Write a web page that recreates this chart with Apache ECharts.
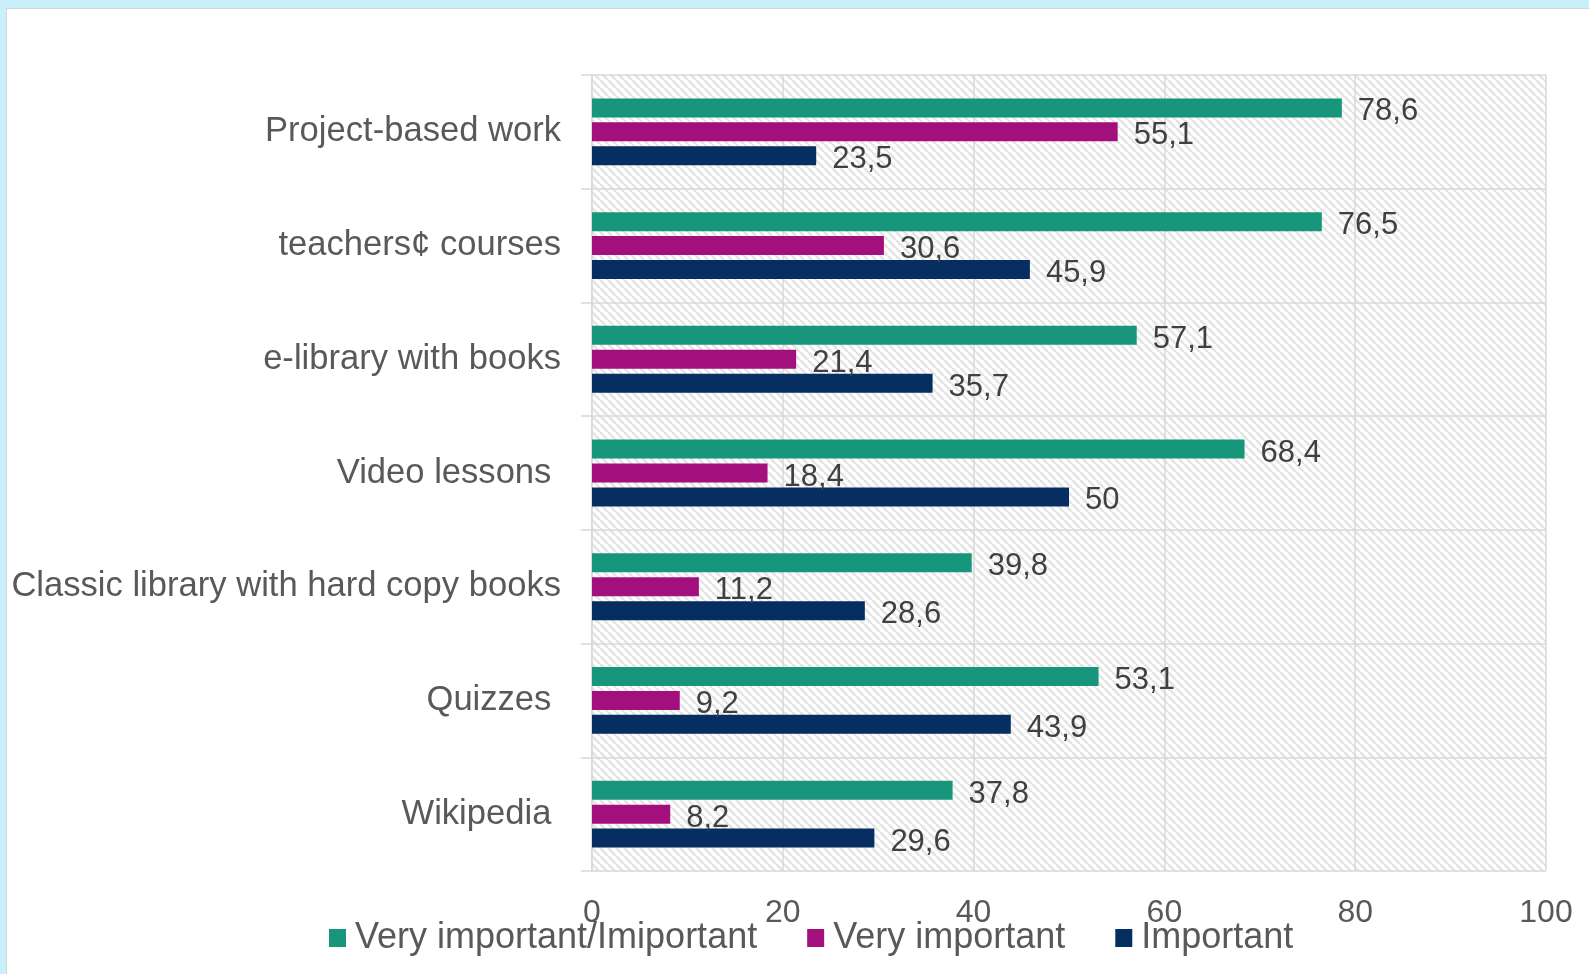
<!DOCTYPE html>
<html>
<head>
<meta charset="utf-8">
<script src="https://cdn.jsdelivr.net/npm/echarts@6/dist/echarts.min.js"></script>
<style>
  html, body { margin: 0; padding: 0; width: 1589px; height: 974px; overflow: hidden; background: #c8effa; }
  #panel { position: absolute; left: 6px; top: 8px; width: 1600px; height: 1000px; background: #ffffff; border-left: 1px solid #d6d6d6; border-top: 1px solid #d6d6d6; }
  #chart { position: absolute; left: 0; top: 0; width: 1589px; height: 974px; }
</style>
</head>
<body>
<div id="panel"></div>
<div id="chart"></div>
<script>
const categories = [
  'Project-based work',
  'teachers\u00a2 courses',
  'e-library with books',
  'Video lessons ',
  'Classic library with hard copy books',
  'Quizzes ',
  'Wikipedia '
];
const seriesNames = ['Very important/Imiportant', 'Very important', 'Important'];
const veryImportantOrImportant = [78.6, 76.5, 57.1, 68.4, 39.8, 53.1, 37.8];
const veryImportant = [55.1, 30.6, 21.4, 18.4, 11.2, 9.2, 8.2];
const important = [23.5, 45.9, 35.7, 50, 28.6, 43.9, 29.6];
const xTicks = [0, 20, 40, 60, 80, 100];

const colors = ['#17967b', '#a30f7d', '#062e61'];
const FONT = '"Liberation Sans", Arial, sans-serif';

// hatch pattern for plot background
const T = 8;
const tile = document.createElement('canvas');
tile.width = T; tile.height = T;
const ctx = tile.getContext('2d');
ctx.fillStyle = '#ffffff';
ctx.fillRect(0, 0, T, T);
ctx.strokeStyle = '#e4e4e4';
ctx.lineWidth = 2.6;
for (let x = -T; x <= T; x += T) {
  ctx.beginPath();
  ctx.moveTo(x, 0);
  ctx.lineTo(x + T, T);
  ctx.stroke();
}

const chart = echarts.init(document.getElementById('chart'), null, { renderer: 'canvas' });

function mkSeries(name, data, color) {
  return {
    name: name,
    type: 'bar',
    data: data,
    barWidth: 19,
    barGap: '26%',
    itemStyle: { color: color },
    label: {
      show: true,
      position: 'right',
      distance: 16,
      offset: [0, 4],
      color: '#404040',
      fontFamily: FONT,
      fontSize: 31,
      formatter: p => String(p.value).replace('.', ',')
    }
  };
}

chart.setOption({
  animation: false,
  backgroundColor: 'transparent',
  textStyle: { fontFamily: FONT },
  grid: {
    left: 592, right: 43, top: 75, bottom: 103,
    show: true,
    borderWidth: 0,
    backgroundColor: { image: tile, repeat: 'repeat' }
  },
  legend: {
    data: seriesNames,
    left: 329,
    top: 920,
    padding: 0,
    itemWidth: 17,
    itemHeight: 18,
    itemGap: 50,
    icon: 'rect',
    textStyle: { fontFamily: FONT, fontSize: 36, color: '#595959', padding: [0, 0, 0, 4] }
  },
  xAxis: {
    type: 'value',
    min: 0, max: 100, interval: 20,
    axisLine: { show: false },
    axisTick: { show: false },
    axisLabel: {
      margin: 26,
      color: '#595959',
      fontFamily: FONT,
      fontSize: 32,
      formatter: v => xTicks.includes(v) ? String(v) : ''
    },
    splitLine: { show: true, lineStyle: { color: '#d9d9d9', width: 1.5 } }
  },
  yAxis: {
    type: 'category',
    data: categories,
    inverse: true,
    axisLine: { show: true, lineStyle: { color: '#d9d9d9', width: 1.5 } },
    axisTick: { show: true, length: 11, lineStyle: { color: '#d9d9d9', width: 1.5 } },
    axisLabel: { margin: 31, color: '#595959', fontFamily: FONT, fontSize: 34.6 },
    splitLine: { show: true, lineStyle: { color: '#d9d9d9', width: 1.5 } }
  },
  series: [
    mkSeries(seriesNames[0], veryImportantOrImportant, colors[0]),
    mkSeries(seriesNames[1], veryImportant, colors[1]),
    mkSeries(seriesNames[2], important, colors[2])
  ]
});
</script>
</body>
</html>
